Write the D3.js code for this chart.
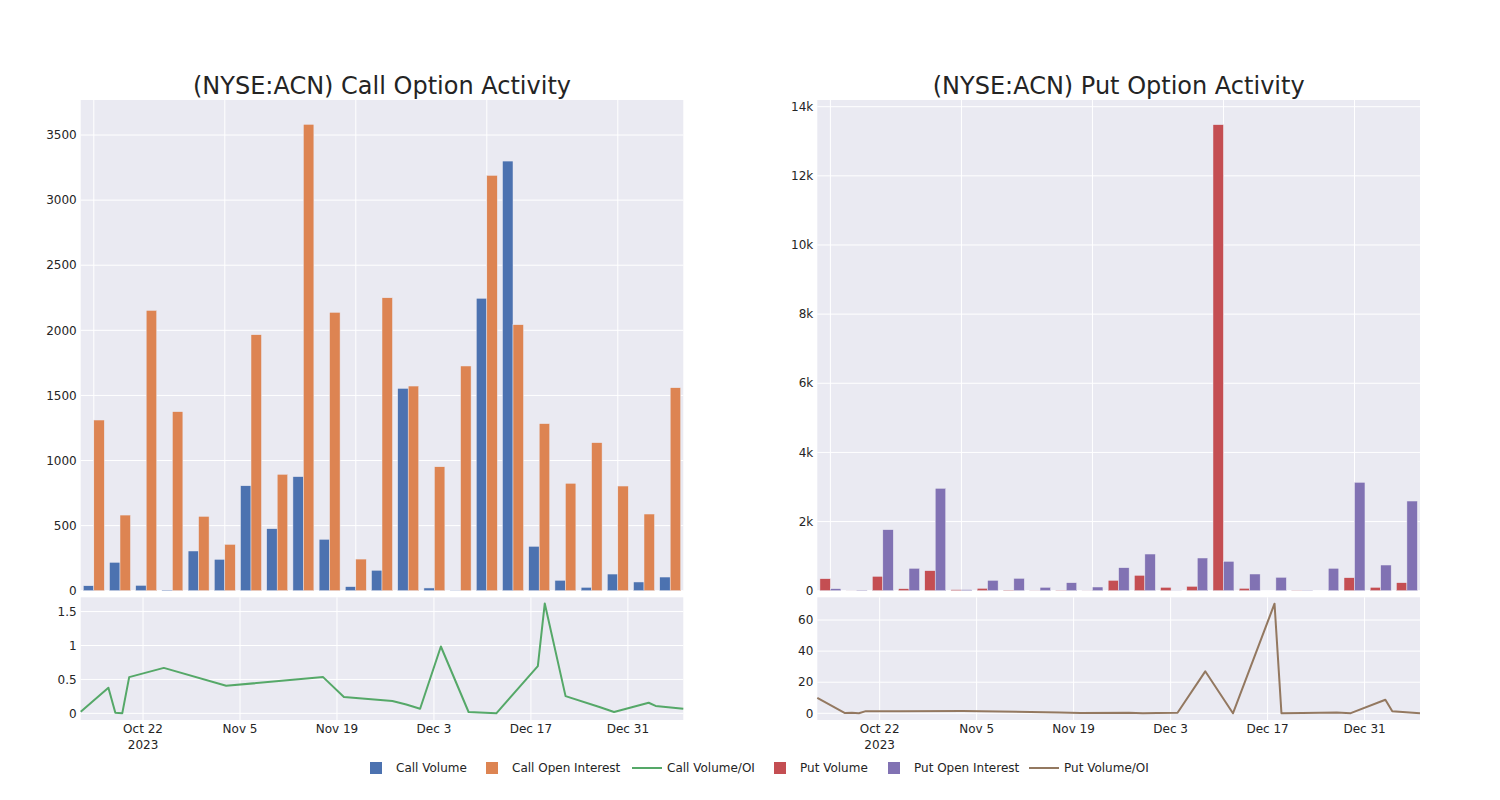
<!DOCTYPE html>
<html>
<head>
<meta charset="utf-8">
<script src="https://cdn.jsdelivr.net/npm/d3@7"></script>
<style>
  html, body { margin: 0; padding: 0; background: #fff; }
  svg { display: block; font-family: "DejaVu Sans", sans-serif; }
</style>
</head>
<body>
<svg id="chart" width="1500" height="800"></svg>
<script>
// ---------------- DATA ----------------
const dates = ["2023-10-13","2023-10-17","2023-10-18","2023-10-19","2023-10-20","2023-10-25",
  "2023-11-03","2023-11-17","2023-11-20","2023-11-27","2023-11-29","2023-12-01","2023-12-04",
  "2023-12-08","2023-12-12","2023-12-18","2023-12-19","2023-12-22","2023-12-27","2023-12-29",
  "2024-01-03","2024-01-04","2024-01-08"];

const callVolume = [38,218,41,5,305,241,806,476,876,395,31,157,1554,21,2,2246,3300,341,80,26,128,67,105];
const callOpenInterest = [1311,581,2153,1375,571,356,1966,894,3582,2138,243,2250,1572,952,1726,3190,2043,1283,825,1137,804,589,1559];
const callVolumeOI = [0.025,0.377,0.01,0.0,0.534,0.67,0.406,0.534,0.24,0.181,0.13,0.068,0.985,0.02,0.0,0.696,1.62,0.254,0.09,0.02,0.156,0.11,0.068];

const putVolume = [347,2,416,58,579,30,69,15,5,10,3,300,445,98,127,13480,69,0,8,0,376,98,231];
const putOpenInterest = [58,15,1765,648,2962,30,300,358,98,231,107,665,1061,4,946,850,483,388,10,648,3135,743,2594];
const putVolumeOI = [10.0,0.2,0.3,0.0,1.4,1.3,1.5,0.5,0.2,0.3,0.0,0.2,0.4,27.0,0.0,70.5,0.1,0.2,0.6,0.1,8.7,1.3,0.0];

const callBarTicks = [0,500,1000,1500,2000,2500,3000,3500];
const putBarTicks = [0,2000,4000,6000,8000,10000,12000,14000];
const putBarTickLabels = ["0","2k","4k","6k","8k","10k","12k","14k"];
const callLineTicks = [0,0.5,1,1.5];
const putLineTicks = [0,20,40,60];
const dateTicks = ["2023-10-22","2023-11-05","2023-11-19","2023-12-03","2023-12-17","2023-12-31"];
const dateTickLabels = ["Oct 22","Nov 5","Nov 19","Dec 3","Dec 17","Dec 31"];

const titles = ["(NYSE:ACN) Call Option Activity","(NYSE:ACN) Put Option Activity"];
const legendItems = [
  {name:"Call Volume", type:"bar", color:"#4C72B0"},
  {name:"Call Open Interest", type:"bar", color:"#DD8452"},
  {name:"Call Volume/OI", type:"line", color:"#55A868"},
  {name:"Put Volume", type:"bar", color:"#C44E52"},
  {name:"Put Open Interest", type:"bar", color:"#8172B3"},
  {name:"Put Volume/OI", type:"line", color:"#937860"}
];

// ---------------- LAYOUT ----------------
const svg = d3.select("#chart");
const BG = "#EAEAF2", GRID = "#FFFFFF", TXT = "#242424";
const parse = s => { const [y,m,d] = s.split("-").map(Number); return new Date(Date.UTC(y,m-1,d)); };

const panels = [
  {x0:80.7, x1:683.3, title:titles[0], vol:callVolume, oi:callOpenInterest, ratio:callVolumeOI,
   c1:"#4C72B0", c2:"#DD8452", lc:"#55A868", barMax:3769, barTicks:callBarTicks, barLabels:callBarTicks.map(String),
   lineDomain:[-0.098,1.71], lineTicks:callLineTicks, lineLabels:callLineTicks.map(String)},
  {x0:817.3, x1:1420, title:titles[1], vol:putVolume, oi:putOpenInterest, ratio:putVolumeOI,
   c1:"#C44E52", c2:"#8172B3", lc:"#937860", barMax:14194, barTicks:putBarTicks, barLabels:putBarTickLabels,
   lineDomain:[-4.3,74.6], lineTicks:putLineTicks, lineLabels:putLineTicks.map(String)}
];

const barTop = 100, barBottom = 590.7, lineTop = 597.3, lineBottom = 720;

panels.forEach(p => {
  const g = svg.append("g");
  // backgrounds
  g.append("rect").attr("x",p.x0).attr("y",barTop).attr("width",p.x1-p.x0).attr("height",barBottom-barTop).attr("fill",BG);
  g.append("rect").attr("x",p.x0).attr("y",lineTop).attr("width",p.x1-p.x0).attr("height",lineBottom-lineTop).attr("fill",BG);

  // title
  g.append("text").attr("x",(p.x0+p.x1)/2).attr("y",93.5).attr("text-anchor","middle")
    .attr("font-size",24).attr("fill",TXT).text(p.title);

  // --- bar subplot ---
  const xb = d3.scaleBand().domain(dates).range([p.x0,p.x1]).padding(0);
  const xs = d3.scaleBand().domain(["vol","oi"]).range([0, xb.bandwidth()*0.8]).padding(0);
  const yb = d3.scaleLinear().domain([0,p.barMax]).range([barBottom,barTop]);

  // grid
  g.append("g").selectAll("line").data(p.barTicks).join("line")
    .attr("x1",p.x0).attr("x2",p.x1).attr("y1",d=>yb(d)).attr("y2",d=>yb(d))
    .attr("stroke",GRID).attr("stroke-width",1);
  g.append("g").selectAll("line").data(dates.filter((d,i)=>i%5===0)).join("line")
    .attr("x1",d=>xb(d)+xb.bandwidth()/2).attr("x2",d=>xb(d)+xb.bandwidth()/2)
    .attr("y1",barTop).attr("y2",barBottom).attr("stroke",GRID).attr("stroke-width",1);

  // y labels
  g.append("g").selectAll("text").data(p.barTicks).join("text")
    .attr("x",p.x0-4).attr("y",d=>yb(d)).attr("dy","0.35em").attr("text-anchor","end")
    .attr("font-size",12).attr("fill",TXT).text((d,i)=>p.barLabels[i]);

  // bars
  const series = [{k:"vol",vals:p.vol,c:p.c1},{k:"oi",vals:p.oi,c:p.c2}];
  series.forEach(s => {
    g.append("g").selectAll("rect").data(dates).join("rect")
      .attr("x",(d)=>xb(d)+xb.bandwidth()*0.1+xs(s.k))
      .attr("width",xs.bandwidth())
      .attr("y",(d,i)=>yb(s.vals[i]))
      .attr("height",(d,i)=>barBottom-yb(s.vals[i]))
      .attr("fill",s.c).attr("stroke",BG).attr("stroke-width",0.5);
  });

  // --- line subplot ---
  const xt = d3.scaleUtc().domain([parse(dates[0]),parse(dates[dates.length-1])]).range([p.x0,p.x1]);
  const yl = d3.scaleLinear().domain(p.lineDomain).range([lineBottom,lineTop]);

  g.append("g").selectAll("line").data(p.lineTicks).join("line")
    .attr("x1",p.x0).attr("x2",p.x1).attr("y1",d=>yl(d)).attr("y2",d=>yl(d))
    .attr("stroke",GRID).attr("stroke-width",1);
  g.append("g").selectAll("line").data(dateTicks).join("line")
    .attr("x1",d=>xt(parse(d))).attr("x2",d=>xt(parse(d)))
    .attr("y1",lineTop).attr("y2",lineBottom).attr("stroke",GRID).attr("stroke-width",1);

  g.append("g").selectAll("text").data(p.lineTicks).join("text")
    .attr("x",p.x0-4).attr("y",d=>yl(d)).attr("dy","0.35em").attr("text-anchor","end")
    .attr("font-size",12).attr("fill",TXT).text((d,i)=>p.lineLabels[i]);

  const xl = g.append("g").selectAll("text").data(dateTicks).join("text")
    .attr("x",d=>xt(parse(d))).attr("y",733).attr("text-anchor","middle")
    .attr("font-size",12).attr("fill",TXT);
  xl.append("tspan").attr("x",d=>xt(parse(d))).text((d,i)=>dateTickLabels[i]);
  xl.filter((d,i)=>i===0).append("tspan").attr("x",d=>xt(parse(d))).attr("dy",16).text("2023");

  const line = d3.line().x((d,i)=>xt(parse(dates[i]))).y(d=>yl(d));
  g.append("path").datum(p.ratio).attr("d",line).attr("fill","none")
    .attr("stroke",p.lc).attr("stroke-width",2).attr("stroke-linejoin","round");
});

// ---------------- LEGEND ----------------
const legendX = [370, 486, 632, 774, 888, 1029];
const lg = svg.append("g");
legendItems.forEach((it,i) => {
  const x = legendX[i];
  if (it.type === "bar") {
    lg.append("rect").attr("x",x).attr("y",762).attr("width",12).attr("height",12).attr("fill",it.color);
    lg.append("text").attr("x",x+26).attr("y",768).attr("dy","0.35em").attr("font-size",12).attr("fill",TXT).text(it.name);
  } else {
    lg.append("line").attr("x1",x).attr("x2",x+30).attr("y1",768).attr("y2",768).attr("stroke",it.color).attr("stroke-width",2);
    lg.append("text").attr("x",x+35).attr("y",768).attr("dy","0.35em").attr("font-size",12).attr("fill",TXT).text(it.name);
  }
});
</script>
</body>
</html>
